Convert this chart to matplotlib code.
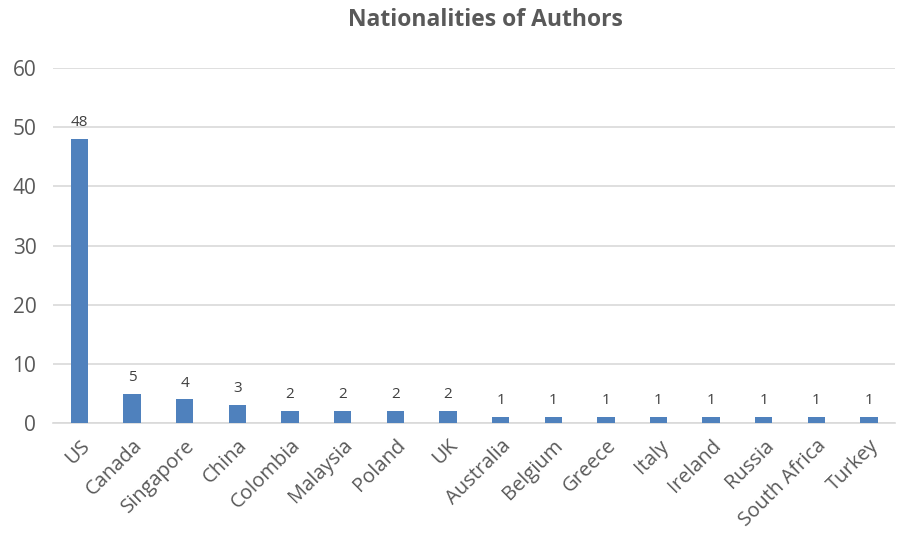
import numpy as np
import matplotlib.pyplot as plt

countries = ["US", "Canada", "Singapore", "China", "Colombia", "Malaysia", "Poland", "UK",
             "Australia", "Belgium", "Greece", "Italy", "Ireland", "Russia", "South Africa", "Turkey"]
counts = [48, 5, 4, 3, 2, 2, 2, 2, 1, 1, 1, 1, 1, 1, 1, 1]

plt.rcParams['font.family'] = ['Open Sans', 'DejaVu Sans']

fig = plt.figure(figsize=(8.99, 5.39), dpi=100)
ax = fig.add_axes([0.059, 0.215, 0.937, 0.659])

x = np.arange(len(countries))
bars = ax.bar(x, counts, width=0.33, color='#4f81bd', zorder=3)
for xi, v in zip(x, counts):
    ax.text(xi, v + 1.5, str(v), ha='center', va='bottom', fontsize=11, color='#404040')

ax.set_xlim(-0.5, len(countries) - 0.5)
ax.set_ylim(0, 60)
ax.set_yticks(range(0, 61, 10))
ax.grid(axis='y', color='#d9d9d9', linewidth=1.2, zorder=0)
for s in ['top', 'right', 'left']:
    ax.spines[s].set_visible(False)
ax.spines['bottom'].set_color('#d9d9d9')
ax.spines['bottom'].set_linewidth(1.2)
ax.tick_params(axis='both', length=0, colors='#595959')
ax.tick_params(axis='y', labelsize=15, pad=12)
ax.set_xticks(x)
ax.set_xticklabels(countries, rotation=45, ha='right', rotation_mode='anchor', fontsize=14.5)
ax.tick_params(axis='x', pad=9)

fig.suptitle("Nationalities of Authors", x=0.54, y=0.985, fontsize=16.5, fontweight='bold', color='#595959')

fig.savefig('out.png', dpi=100)
